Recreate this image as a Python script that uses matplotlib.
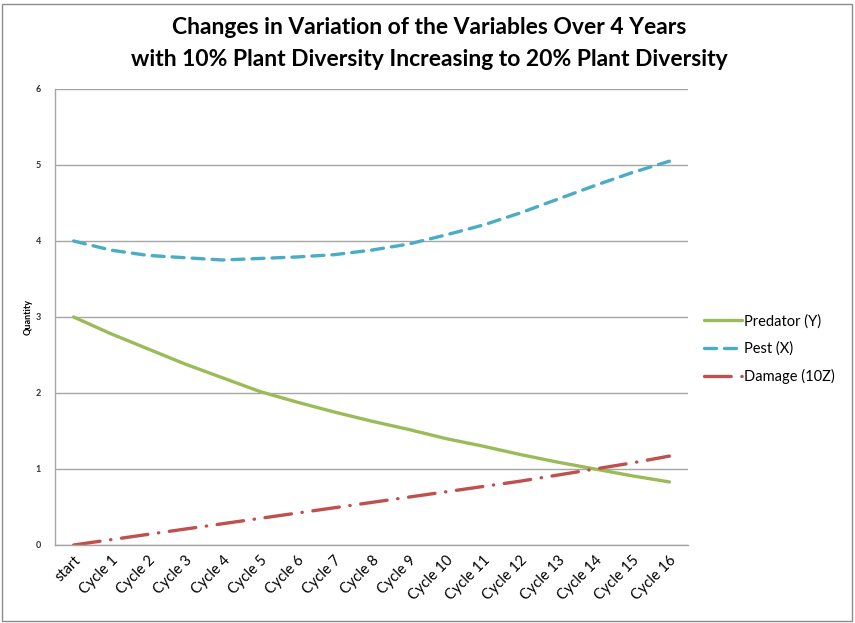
import matplotlib
matplotlib.use("Agg")
import matplotlib.pyplot as plt
from matplotlib.patches import Rectangle

categories = ["start"] + [f"Cycle {i}" for i in range(1, 17)]
predator = [3.0, 2.78, 2.58, 2.38, 2.20, 2.02, 1.88, 1.75, 1.63, 1.52, 1.40, 1.30, 1.19, 1.09, 1.00, 0.91, 0.83]
pest = [4.0, 3.88, 3.81, 3.78, 3.75, 3.77, 3.79, 3.82, 3.88, 3.96, 4.08, 4.21, 4.37, 4.55, 4.73, 4.90, 5.05]
damage = [0.0, 0.07, 0.14, 0.21, 0.28, 0.35, 0.42, 0.49, 0.56, 0.63, 0.70, 0.77, 0.84, 0.92, 1.00, 1.08, 1.17]
yticks = [0, 1, 2, 3, 4, 5, 6]

plt.rcParams['font.family'] = ['Lato', 'DejaVu Sans']

fig = plt.figure(figsize=(8.55, 6.23), dpi=100)
fig.patches.append(Rectangle((2/855, 2/623), 850/855, 617/623, transform=fig.transFigure,
                             fill=False, edgecolor='#8c8c8c', linewidth=1.0))

ax = fig.add_axes([55/855, 78/623, 633/855, 456/623])
x = list(range(len(categories)))
lw = 2.4
ax.plot(x, predator, color='#9BBB59', linewidth=lw, label='Predator (Y)', solid_capstyle='round')
ax.plot(x, pest, color='#4BACC6', linewidth=lw, label='Pest (X)', dashes=(3.6, 2.4), dash_capstyle='round')
ax.plot(x, damage, color='#C0504D', linewidth=lw, label='Damage (10Z)', dashes=(8.0, 3.2, 0.1, 3.2), dash_capstyle='round')

ax.set_xlim(-0.5, len(categories) - 0.5)
ax.set_ylim(0, 6)
ax.set_yticks(yticks)
ax.set_yticklabels([str(v) for v in yticks], fontsize=6.5, fontweight='bold', color='#333333')
ax.set_xticks(x)
ax.set_xticklabels(categories, rotation=45, ha='right', rotation_mode='anchor', fontsize=10.5, color='#000000')
ax.tick_params(axis='both', length=0, pad=10)
ax.tick_params(axis='x', pad=6)
ax.yaxis.grid(True, color='#a6a6a6', linewidth=1.0)
ax.set_axisbelow(True)
for s in ['top', 'right']:
    ax.spines[s].set_visible(False)
for s in ['left', 'bottom']:
    ax.spines[s].set_color('#a6a6a6')
    ax.spines[s].set_linewidth(1.0)
ax.set_ylabel('Quantity', fontsize=6.5, fontweight='bold', labelpad=2)

fig.text(429/855, 1 - 28/623, 'Changes in Variation of the Variables Over 4 Years', ha='center', va='center',
         fontsize=16.5, fontweight='bold')
fig.text(429/855, 1 - 59/623, 'with 10% Plant Diversity Increasing to 20% Plant Diversity', ha='center', va='center',
         fontsize=16.5, fontweight='bold')

leg = fig.legend(loc='center left', bbox_to_anchor=(691/855, 1 - 349/623), frameon=False, fontsize=10.5,
                 handlelength=2.6, handletextpad=0.1, labelspacing=0.9)

fig.savefig('out.png', dpi=100, facecolor='white')
